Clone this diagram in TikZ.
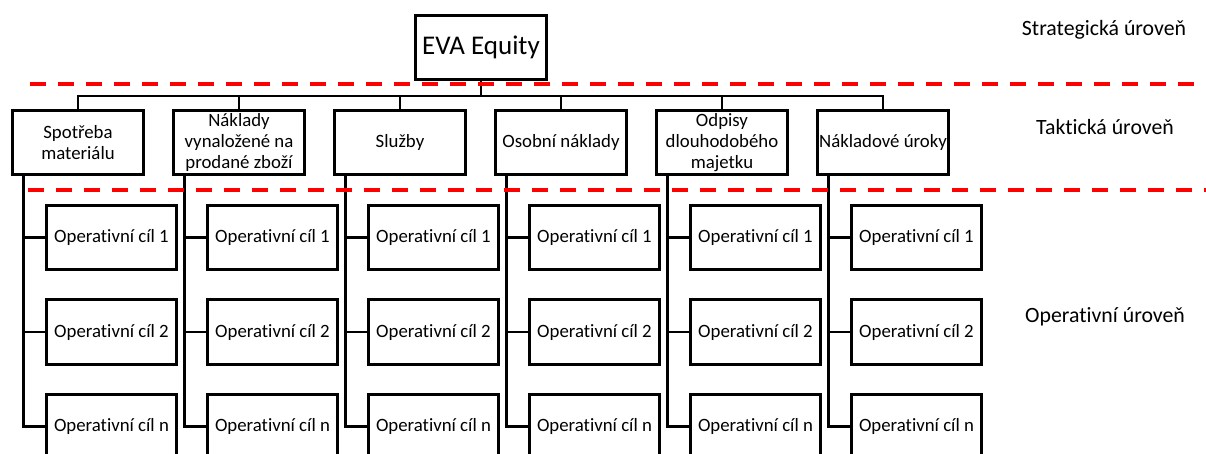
\documentclass[tikz,border=0pt]{standalone}
\usepackage{fontspec}
\setmainfont{Carlito}[RawFeature=-liga]
\usetikzlibrary{positioning}

\begin{document}
\begin{tikzpicture}[x=1pt,y=-1pt,
  box/.style={draw,line width=2.9pt,minimum width=131.5pt,minimum height=64.5pt,
    inner sep=2pt,align=center,font=\fontsize{18.8}{21}\selectfont},
  goal/.style={box,minimum width=130.5pt},
  link/.style={line width=2.9pt},
  level/.style={font=\fontsize{21.8}{25}\selectfont},
  border/.style={red,line width=4pt,dash pattern=on 16pt off 12pt}]
% Picture frame, the last row of goals runs past the bottom
\useasboundingbox (0,0) rectangle (1206,454);
\clip (0,0) rectangle (1206,454);
% Top of the tree
\node[box,font=\fontsize{27}{31}\selectfont] (eva) at (481,47.5) {EVA Equity};
% Tactical row
\node[box] (t1) at (78,142.5) {Spotřeba\\materiálu};
\node[box] (t2) at (239,142.5) {Náklady\\vynaložené na\\prodané zboží};
\node[box] (t3) at (400,142.5) {Služby};
\node[box] (t4) at (561,142.5) {Osobní náklady};
\node[box] (t5) at (722,142.5) {Odpisy\\dlouhodobého\\majetku};
\node[box] (t6) at (883,142.5) {Nákladové úroky};
% Bus between the top box and the tactical row
\coordinate (bus) at (0,96);
\draw[link] (eva.south) -- (eva.south |- bus);
\draw[link] (t1.north) -- (t1.north |- bus) -- (t6.north |- bus) -- (t6.north);
\draw[link] (t2.north) -- (t2.north |- bus);
\draw[link] (t3.north) -- (t3.north |- bus);
\draw[link] (t4.north) -- (t4.north |- bus);
\draw[link] (t5.north) -- (t5.north |- bus);
% Operational goals hanging from each tactical box
\foreach \i in {1,...,6} {
  \foreach \j/\lbl in {1/1,2/2,3/n}
    \node[goal] (o\i\j) at ({111.5+161*(\i-1)},{237.5+94.5*(\j-1)}) {Operativní cíl \lbl};
  \coordinate (trunk\i) at ([xshift=13pt]t\i.south west);
  \draw[link] (trunk\i) |- (o\i3.west);
  \draw[link] (trunk\i |- o\i1.west) -- (o\i1.west);
  \draw[link] (trunk\i |- o\i2.west) -- (o\i2.west);
}
% Level borders
\coordinate (a1) at (30,84);
\coordinate (b1) at (1194,84);
\coordinate (a2) at (28,190);
\coordinate (b2) at (1210,190);
\draw[border] (a1) -- (b1);
\draw[border] (a2) -- (b2);
% Level names
\node[level] (strat) at (1104,30) {Strategická úroveň};
\node[level] (takt) at (1105,127) {Taktická úroveň};
\node[level] (oper) at (1105,317) {Operativní úroveň};
\end{tikzpicture}
\end{document}
